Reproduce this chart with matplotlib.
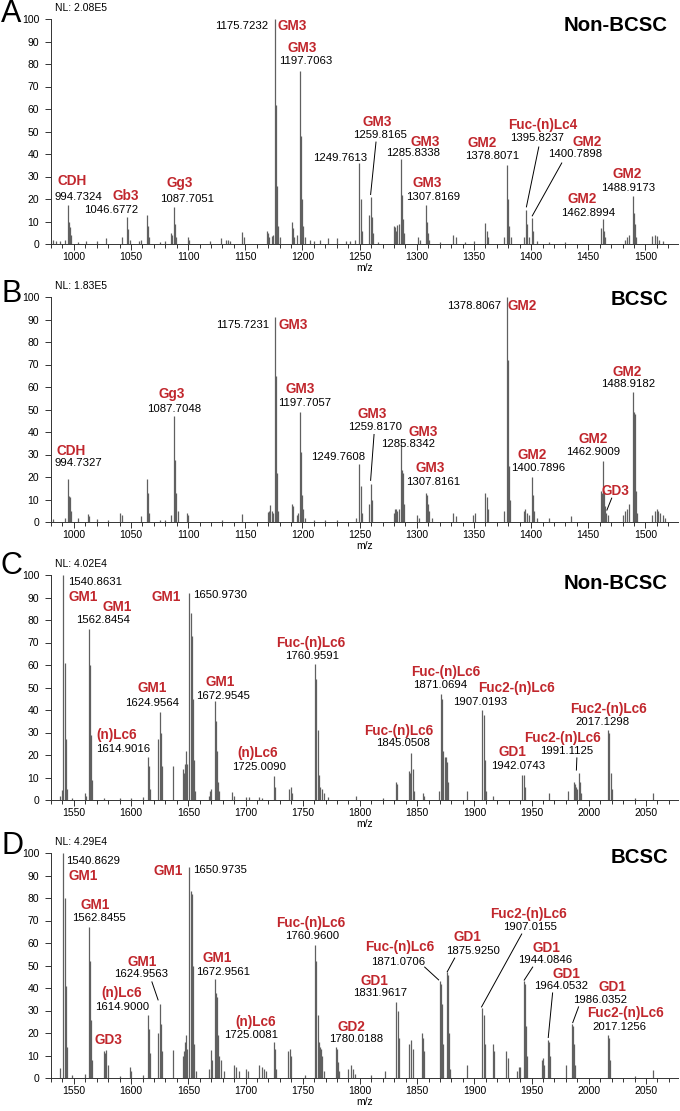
import matplotlib
matplotlib.use('Agg')
import matplotlib.pyplot as plt
from matplotlib.ticker import MultipleLocator

plt.rcParams['font.family'] = ['Liberation Sans', 'DejaVu Sans']

RED = '#c1272d'
LINE = '#606060'

# ---------------- data: peak lists (m/z, relative abundance) ----------------
peaks_A = [(982, 2), (984, 1.5), (988, 1.5), (992, 2), (994.73, 17.5), (995.73, 10), (996.73, 7.5), (997.73, 4),
           (1004, 1), (1011, 1.5), (1020, 1.5), (1028, 2.5),
           (1042, 3), (1046.68, 12), (1047.68, 6.5), (1048.68, 2),
           (1057, 1.5), (1059, 2), (1063.7, 13), (1064.7, 8), (1065.7, 3),
           (1075, 1), (1080, 1.5), (1085, 5), (1086, 4), (1087.71, 16.5), (1088.71, 9), (1089.71, 3),
           (1100, 3), (1101, 2), (1119, 1.5), (1129, 2.5), (1133, 2), (1135, 2), (1137, 1.5),
           (1147.5, 5.5), (1148.5, 3),
           (1169, 6), (1170, 5), (1171, 3), (1173, 3.5), (1174, 4),
           (1175.72, 100), (1176.72, 62), (1177.72, 26), (1178.72, 8), (1180, 3),
           (1190.5, 10), (1191.5, 7), (1193, 3), (1195, 4),
           (1197.71, 77), (1198.71, 48), (1199.71, 20), (1200.71, 8), (1202, 3),
           (1207, 2), (1210, 1.5), (1215, 2), (1222, 2.5), (1230, 2.5), (1238, 1.5), (1242, 1.5), (1246, 2),
           (1249.76, 36), (1250.76, 20), (1251.76, 6),
           (1258, 13), (1259.82, 21), (1260.82, 12), (1261.82, 5), (1266, 1),
           (1280, 8), (1281, 7.5), (1282, 6), (1283, 8.5), (1284, 9),
           (1285.83, 38), (1286.83, 22), (1287.83, 11), (1289, 5),
           (1301, 3), (1303, 2), (1307.82, 17.5), (1308.82, 10), (1309.82, 5), (1311, 2), (1320, 1),
           (1332, 4), (1334, 3), (1342, 1), (1350, 1.5), (1360, 9.5), (1361, 6), (1362, 3),
           (1376, 3), (1378.81, 35), (1379.81, 20), (1380.81, 8), (1382, 3),
           (1394, 3), (1395.82, 15), (1396.82, 9), (1397.82, 3), (1400.79, 11.5), (1401.79, 6),
           (1405, 1.5), (1416, 1), (1430, 1),
           (1460.9, 7), (1462.9, 11), (1463.9, 6), (1465, 3),
           (1482, 2), (1484, 3), (1486, 4), (1488.92, 21.5), (1489.92, 14), (1490.92, 9), (1491.92, 3),
           (1506, 3.5), (1508, 4), (1510, 3.5), (1512, 2), (1515, 1.5)]

peaks_B = [(982, 1.5), (992, 2), (994.73, 19), (995.73, 11.5), (996.73, 11), (997.73, 5),
           (1004, 2), (1012, 3.5), (1013.5, 2.5), (1020, 1.5), (1030, 1),
           (1040, 4), (1042, 3), (1059, 2.5), (1063.7, 19), (1064.7, 13), (1065.7, 4),
           (1075, 1), (1080, 1),
           (1085, 3), (1087.7, 47), (1088.7, 27.5), (1089.7, 13), (1090.7, 5),
           (1099, 4), (1100, 3), (1130, 1), (1147.5, 3.5),
           (1170, 4.5), (1171, 5), (1172, 7.5), (1173, 5), (1174, 4),
           (1175.72, 91), (1176.72, 65), (1177.72, 22), (1178.72, 5),
           (1191, 8), (1192, 7), (1195, 3), (1196, 4),
           (1197.71, 49), (1198.71, 31), (1199.71, 12), (1200.71, 6), (1202, 2),
           (1210, 1), (1220, 1), (1230, 1),
           (1247, 2), (1249.76, 26), (1250.76, 16), (1251.76, 4),
           (1258, 8), (1259.82, 17), (1260.82, 10),
           (1280, 4), (1281, 6), (1282, 6), (1283, 5), (1284, 6),
           (1285.83, 35), (1286.83, 23), (1287.83, 22), (1288.83, 8),
           (1300, 3), (1302, 2),
           (1307.82, 13), (1308.82, 12), (1309.82, 8), (1311, 5), (1313, 2),
           (1332, 4), (1334, 2.5), (1349, 3), (1351, 4),
           (1360, 13), (1361, 11), (1362, 6),
           (1376, 5), (1378.81, 100), (1379.81, 72), (1380.81, 25), (1381.81, 10),
           (1394, 5), (1395, 6), (1396, 4), (1398, 3),
           (1400.79, 20), (1401.79, 12), (1402.79, 5),
           (1405, 2), (1416, 2), (1435, 2.5),
           (1460.9, 14), (1461.9, 13), (1462.9, 27), (1463.9, 14), (1464.9, 7), (1465.9, 4), (1467, 3),
           (1480, 3), (1482, 5), (1484, 6), (1486, 8),
           (1488.92, 58), (1489.92, 49), (1490.92, 48), (1491.92, 14), (1493, 4),
           (1506, 3), (1508, 5), (1510, 6), (1511, 5), (1513, 4), (1515, 3), (1517, 2)]

peaks_C = [(1538, 2), (1539.9, 4.5), (1540.86, 100), (1541.86, 61), (1542.86, 27), (1543.86, 5),
           (1548, 1), (1560, 3), (1561, 2),
           (1562.85, 76), (1563.85, 60), (1564.85, 29), (1565.85, 9),
           (1576, 1), (1590, 1), (1600, 1), (1610, 1.5),
           (1614.9, 19), (1615.9, 15), (1616.9, 5),
           (1623.9, 27), (1624.96, 39), (1625.96, 30), (1626.96, 15),
           (1637, 15),
           (1645, 14), (1646, 12), (1647, 16), (1648, 22), (1649, 16),
           (1650.97, 92), (1651.97, 83), (1652.97, 73), (1653.97, 45), (1654.97, 18), (1656, 4),
           (1668, 2), (1669, 4), (1670, 5), (1672.95, 44), (1673.95, 35), (1674.95, 22), (1675.95, 8), (1677, 4),
           (1688, 3.5), (1690, 2), (1700, 1.5), (1703, 1.5), (1712, 1.5), (1714, 1),
           (1725.01, 10.5), (1726.01, 6),
           (1738, 5), (1740, 6), (1741, 3),
           (1760.96, 60.5), (1761.96, 54), (1762.96, 31), (1763.96, 11), (1765, 6), (1767, 5), (1769, 3),
           (1772, 1.5), (1797, 2), (1820, 1),
           (1831.8, 8), (1832.8, 7),
           (1843, 13), (1844, 12), (1845.05, 21), (1846.05, 14), (1847, 4),
           (1855, 3), (1856, 2),
           (1869, 4), (1871.07, 47), (1872.07, 45), (1873, 22), (1874, 19), (1875, 19), (1876, 17), (1877, 8),
           (1894, 4),
           (1907.02, 40), (1908.02, 38), (1909, 18), (1910, 4),
           (1916, 2),
           (1942.07, 11), (1943.07, 11), (1944, 6),
           (1965, 3),
           (1982, 4), (1987, 8), (1988, 7), (1989, 6), (1990, 5), (1991.11, 12), (1992.11, 8), (1993, 3),
           (2017.13, 31), (2018.13, 30), (2019.13, 12), (2020, 5),
           (2040, 1), (2056, 3)]

peaks_D = [(1538, 4.5), (1540.86, 100), (1541.86, 80), (1542.86, 41), (1543.86, 14),
           (1548, 1.5), (1560, 2),
           (1562.85, 67), (1563.85, 52), (1564.85, 26), (1565.85, 8),
           (1576.5, 12), (1577.5, 11), (1578.5, 12.5), (1579.5, 6),
           (1590, 1), (1599, 5), (1600, 3), (1610, 1.5),
           (1614.9, 28), (1615.9, 22), (1616.9, 11),
           (1623.9, 20), (1624.96, 33), (1625.96, 24), (1626.96, 12),
           (1637, 12.5),
           (1645, 10), (1646, 12), (1647, 16), (1648, 19), (1649, 13),
           (1650.97, 94), (1651.97, 83), (1652.97, 82), (1653.97, 50), (1655, 15), (1657, 3),
           (1668, 4), (1670, 12.5), (1671, 8),
           (1672.96, 44), (1673.96, 38), (1674.96, 36), (1675.96, 19), (1677, 10), (1679, 8), (1681, 3),
           (1690, 6), (1692, 5), (1694, 3), (1700, 4), (1702, 3),
           (1712, 6), (1714, 5), (1716, 4), (1718, 3),
           (1725.01, 16), (1726.01, 13), (1727, 4),
           (1737, 12), (1739, 13), (1740, 10),
           (1752, 1.5),
           (1760.96, 59), (1761.96, 52), (1762.96, 28), (1764, 16), (1765, 14), (1766, 13), (1767, 10), (1769, 3),
           (1779, 14), (1780.02, 13), (1781, 7), (1782, 3),
           (1790, 4), (1792, 6), (1794, 4), (1796, 2),
           (1810, 1.5), (1822, 3),
           (1831.96, 34), (1832.96, 30), (1833.96, 18),
           (1843, 15), (1844.5, 17), (1846, 13),
           (1854, 20), (1855, 18), (1856, 12),
           (1870.07, 43), (1871.07, 42), (1872, 33), (1873, 15),
           (1875.93, 47), (1876.93, 46), (1877.93, 20), (1879, 4),
           (1894, 6),
           (1907.02, 31), (1908.02, 28), (1909, 15),
           (1916, 15), (1917, 12),
           (1928, 12), (1929, 9),
           (1937, 3), (1939, 5), (1940, 5),
           (1943.08, 43), (1944.08, 42), (1945, 23), (1946, 10),
           (1959, 8), (1960, 9), (1961, 6),
           (1964.05, 17), (1965.05, 16), (1966, 10),
           (1980, 6),
           (1985.04, 24), (1986.04, 23), (1987, 15), (1988, 6),
           (2017.13, 19), (2018.13, 18), (2019, 8),
           (2040, 1), (2056, 3.5)]

letters = ['A', 'B', 'C', 'D']
conditions = ['Non-BCSC', 'BCSC', 'Non-BCSC', 'BCSC']
nl_values = ['NL: 2.08E5', 'NL: 1.83E5', 'NL: 4.02E4', 'NL: 4.29E4']

# annotation texts (names in red, masses in black)
labels_A = ['1175.7232', 'GM3', 'GM3', '1197.7063', 'CDH', '994.7324', 'Gb3', '1046.6772',
            'Gg3', '1087.7051', '1249.7613', 'GM3', '1259.8165', 'GM3', '1285.8338',
            'GM3', '1307.8169', 'GM2', '1378.8071', 'Fuc-(n)Lc4', '1395.8237',
            'GM2', '1400.7898', 'GM2', '1462.8994', 'GM2', '1488.9173']
labels_B = ['1175.7231', 'GM3', 'Gg3', '1087.7048', 'GM3', '1197.7057', 'CDH', '994.7327',
            '1249.7608', 'GM3', '1259.8170', 'GM3', '1285.8342', 'GM3', '1307.8161',
            '1378.8067', 'GM2', 'GM2', '1400.7896', 'GM2', '1462.9009', 'GD3',
            'GM2', '1488.9182']
labels_C = ['1540.8631', 'GM1', 'GM1', '1562.8454', 'GM1', '1650.9730', 'GM1', '1624.9564',
            '(n)Lc6', '1614.9016', 'GM1', '1672.9545', '(n)Lc6', '1725.0090',
            'Fuc-(n)Lc6', '1760.9591', 'Fuc-(n)Lc6', '1871.0694', 'Fuc2-(n)Lc6', '1907.0193',
            'Fuc-(n)Lc6', '1845.0508', 'GD1', '1942.0743', 'Fuc2-(n)Lc6', '1991.1125',
            'Fuc2-(n)Lc6', '2017.1298']
labels_D = ['1540.8629', 'GM1', 'GM1', '1562.8455', 'GM1', '1650.9735', 'GM1', '1624.9563',
            '(n)Lc6', '1614.9000', 'GD3', 'GM1', '1672.9561', '(n)Lc6', '1725.0081',
            'Fuc-(n)Lc6', '1760.9600', 'GD2', '1780.0188', 'GD1', '1831.9617',
            'Fuc-(n)Lc6', '1871.0706', 'GD1', '1875.9250', 'Fuc2-(n)Lc6', '1907.0155',
            'GD1', '1944.0846', 'GD1', '1964.0532', 'GD1', '1986.0352',
            'Fuc2-(n)Lc6', '2017.1256']

# ---------------- layout ----------------
# label anchor positions (data coords) and alignment
pos_A = [(1170.0, 96.9, 'right'), (1177.9, 96.9, 'left'), (1199.7, 87.1), (1203.2, 81.3),
         (998.8, 28.0), (1004.1, 20.9), (1045.1, 21.3), (1032.9, 15.1),
         (1092.3, 27.1), (1099.3, 20.0), (1232.9, 38.2), (1265.2, 54.2), (1267.8, 48.4),
         (1307.1, 45.3), (1296.7, 40.4), (1308.9, 27.1), (1314.1, 20.9),
         (1356.9, 44.9), (1365.7, 39.1), (1410.2, 52.9), (1405.0, 47.1),
         (1448.6, 45.3), (1438.1, 40.0), (1444.3, 20.0), (1449.5, 13.8),
         (1484.4, 31.1), (1485.3, 24.9)]
pos_B = [(1170.9, 87.6, 'right'), (1178.8, 87.6, 'left'), (1085.3, 57.1), (1087.9, 50.4),
         (1198.0, 59.3), (1202.3, 53.1), (998.0, 31.4), (1004.1, 26.1),
         (1231.2, 28.8), (1260.9, 48.2), (1263.5, 42.0), (1305.4, 39.8), (1292.3, 34.5),
         (1311.5, 23.9), (1314.1, 17.7), (1373.5, 96.0, 'right'), (1379.6, 96.0, 'left'),
         (1400.6, 29.6), (1405.8, 23.9), (1453.9, 36.7), (1453.9, 31.0), (1473.9, 13.7),
         (1484.4, 66.8), (1485.3, 61.5)]
pos_C = [(1544.8, 96.9, 'left'), (1558.0, 90.2), (1587.6, 85.8), (1575.4, 80.0),
         (1630.4, 90.2), (1654.0, 91.1, 'left'), (1618.2, 49.8), (1618.2, 43.1),
         (1587.6, 28.9), (1592.9, 22.7), (1677.6, 52.4), (1680.2, 46.2),
         (1710.8, 20.9), (1711.7, 14.7), (1757.1, 69.8), (1758.0, 64.0),
         (1875.0, 56.9), (1869.7, 51.1), (1937.0, 49.8), (1905.5, 43.6),
         (1833.9, 30.7), (1837.4, 25.3), (1933.5, 21.3), (1938.7, 15.1),
         (1977.2, 27.6), (1980.7, 21.8), (2017.3, 40.4), (2012.1, 34.7)]
pos_D = [(1543.1, 96.4, 'left'), (1558.0, 89.8), (1568.4, 76.9), (1571.9, 71.1),
         (1632.2, 92.0), (1654.0, 92.4, 'left'), (1609.5, 51.6), (1608.6, 46.2),
         (1592.0, 37.8), (1592.0, 31.6), (1579.8, 16.9), (1675.0, 53.3), (1680.2, 47.1),
         (1709.0, 24.9), (1704.7, 19.1), (1757.1, 68.9), (1758.0, 63.1),
         (1792.9, 22.7), (1796.4, 17.3), (1813.0, 43.1), (1817.3, 37.8),
         (1834.8, 58.2), (1833.1, 51.6), (1894.2, 62.7), (1898.6, 56.4),
         (1947.5, 72.9), (1948.3, 67.1), (1963.2, 57.8), (1962.3, 52.4),
         (1980.7, 46.2), (1975.4, 40.9), (2020.8, 40.4), (2010.3, 34.7),
         (2032.2, 28.9), (2027.0, 22.7)]

# leader lines (x1, y1, x2, y2) in data coords
leaders_A = [(1264.3, 45.3, 1259.6, 22.0), (1406.7, 43.1, 1395.9, 16.5), (1426.8, 36.0, 1401.0, 12.5)]
leaders_B = [(1262.6, 38.9, 1259.6, 18.5), (1470.5, 10.6, 1466.3, 5.3)]
leaders_C = [(1989.6, 18.7, 1989.2, 13.3)]
leaders_D = [(1618.2, 42.7, 1623.6, 34.7), (1856.6, 49.3, 1868.8, 43.6), (1882.8, 53.3, 1876.3, 47.2),
             (1941.4, 64.0, 1906.3, 31.6), (1951.0, 49.3, 1943.6, 43.5), (1968.4, 37.8, 1964.6, 18.0),
             (1991.1, 31.6, 1986.0, 24.6)]

panels = [
    (peaks_A, labels_A, pos_A, leaders_A, (980, 1528.5), 244, 0.973, 14),
    (peaks_B, labels_B, pos_B, leaders_B, (980, 1528.5), 522, 0.991, 294),
    (peaks_C, labels_C, pos_C, leaders_C, (1530, 2078), 800, 0.964, 566),
    (peaks_D, labels_D, pos_D, leaders_D, (1530, 2078), 1078, 0.982, 846),
]

W, H = 680, 1111
fig = plt.figure(figsize=(W / 100, H / 100), dpi=100)

for i, (peaks, labels, pos, leaders, xlim, y0px, title_y, letter_y) in enumerate(panels):
    ax = fig.add_axes([51 / W, 1 - y0px / H, 627 / W, 225 / H])
    mz, inten = zip(*peaks)
    ax.vlines(mz, 0, inten, color=LINE, lw=0.9)

    ax.set_xlim(*xlim)
    ax.set_ylim(0, 100)
    ax.xaxis.set_major_locator(MultipleLocator(50))
    ax.xaxis.set_minor_locator(MultipleLocator(10))
    ax.yaxis.set_major_locator(MultipleLocator(10))
    ax.tick_params(axis='both', which='both', direction='out', width=0.7, labelsize=7.5, color='#333333')
    ax.tick_params(axis='x', which='major', length=4, pad=2)
    ax.tick_params(axis='x', which='minor', length=3)
    ax.tick_params(axis='y', length=4, pad=4.5)
    for s in ['top', 'right']:
        ax.spines[s].set_visible(False)
    for s in ['left', 'bottom']:
        ax.spines[s].set_linewidth(0.7)
        ax.spines[s].set_color('#333333')
    ax.set_xlabel('m/z', fontsize=7.5, labelpad=0.5)

    for txt, p in zip(labels, pos):
        ha = p[2] if len(p) > 2 else 'center'
        if txt[0].isdigit():
            ax.text(p[0], p[1], txt, color='black', fontsize=8.2, ha=ha, va='center')
        else:
            ax.text(p[0], p[1], txt, color=RED, fontsize=9.8, fontweight='bold', ha=ha, va='center')
    for x1, y1, x2, y2 in leaders:
        ax.plot([x1, x2], [y1, y2], color='black', lw=0.7)

    ax.text(0.984, title_y, conditions[i], transform=ax.transAxes, ha='right', va='center',
            fontsize=14.7, fontweight='bold')
    ax.text(0.006, 1.047, nl_values[i], transform=ax.transAxes, ha='left', va='center', fontsize=7.5)
    fig.text(1 / W, 1 - letter_y / H, letters[i], ha='left', va='center', fontsize=22)

fig.savefig('out.png', dpi=100)
